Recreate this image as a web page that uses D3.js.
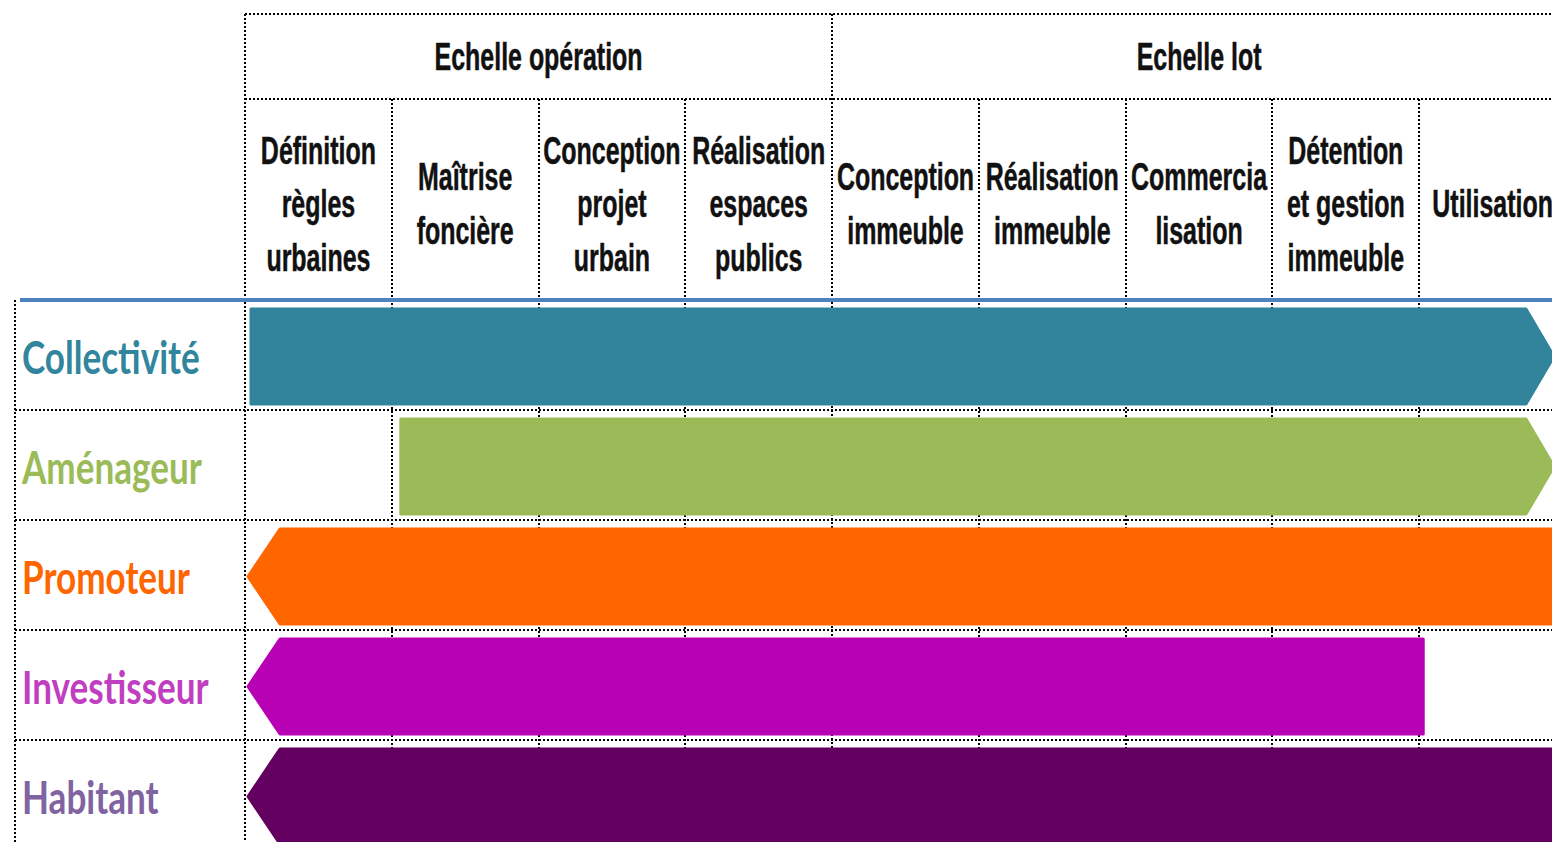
<!DOCTYPE html>
<html>
<head>
<meta charset="utf-8">
<script src="https://cdn.jsdelivr.net/npm/d3@7"></script>
<style>
  html, body { margin: 0; padding: 0; background: #fff; overflow: hidden; }
  svg { display: block; }
</style>
</head>
<body>
<svg id="chart" width="1552" height="842"></svg>
<script>
// ---------- data ----------
const groups = ["Echelle opération", "Echelle lot"];
const groupStart = [0, 4];
const groupEnd = [4, 9];
const phases = [
  ["Définition", "règles", "urbaines"],
  ["Maîtrise", "foncière"],
  ["Conception", "projet", "urbain"],
  ["Réalisation", "espaces", "publics"],
  ["Conception", "immeuble"],
  ["Réalisation", "immeuble"],
  ["Commercia", "lisation"],
  ["Détention", "et gestion", "immeuble"],
  ["Utilisation"]
];
const actors = ["Collectivité", "Aménageur", "Promoteur", "Investisseur", "Habitant"];
const startPhase = [0, 1, 0, 0, 0];
const endPhase = [9, 9, 9, 8, 9];
const startArrow = [false, false, true, true, true];
const endArrow = [true, true, false, false, false];
const barColors = ["#31849b", "#9bbb59", "#ff6600", "#b800b4", "#630060"];
const labelColors = ["#31859c", "#9bbb59", "#ff6600", "#c03fc0", "#8064a2"];

// ---------- layout ----------
const W = 1552, H = 842;
const svg = d3.select("#chart");
const x = d3.scaleLinear().domain([0, phases.length]).range([245, 1566]);
const topY = 14, groupBottom = 99, headBottom = 300;
const y = d3.scaleBand().domain(actors).range([headBottom, headBottom + 110 * actors.length]);
const dash = "2,2";
const lineStyle = sel => sel.attr("stroke", "#000").attr("stroke-width", 2)
  .attr("stroke-dasharray", dash).attr("fill", "none").attr("shape-rendering", "crispEdges");

// grid lines (drawn first, bars cover them)
const grid = svg.append("g");
d3.range(phases.length + 1).forEach(i => {
  const isGroupEdge = groupStart.includes(i);
  grid.append("line")
    .attr("x1", Math.round(x(i))).attr("x2", Math.round(x(i)))
    .attr("y1", isGroupEdge ? topY : groupBottom).attr("y2", H)
    .call(lineStyle);
});
[topY, groupBottom].forEach(yy => {
  grid.append("line").attr("x1", x(0)).attr("x2", x(phases.length)).attr("y1", yy).attr("y2", yy).call(lineStyle);
});
actors.slice(1).forEach(a => {
  grid.append("line").attr("x1", 15).attr("x2", x(phases.length)).attr("y1", y(a)).attr("y2", y(a)).call(lineStyle);
});
grid.append("line").attr("x1", 15).attr("x2", 15).attr("y1", headBottom).attr("y2", H).call(lineStyle);

// blue separator
svg.append("line").attr("x1", 20).attr("x2", x(phases.length)).attr("y1", headBottom).attr("y2", headBottom)
  .attr("stroke", "#4f81bd").attr("stroke-width", 4);

// ---------- header text ----------
const headFont = "'Liberation Sans', Arial, sans-serif";
const sx = 0.64;
groups.forEach((g, i) => {
  const cx = (x(groupStart[i]) + x(groupEnd[i])) / 2;
  svg.append("text")
    .attr("transform", `translate(${cx},70) scale(${sx},1)`)
    .attr("text-anchor", "middle")
    .attr("font-family", headFont).attr("font-weight", "bold").attr("font-size", 39)
    .attr("fill", "#111").attr("stroke", "#111").attr("stroke-width", 0.5).text(g);
});
const lineGap = 53.5, midBase = 217;
phases.forEach((lines, i) => {
  const cx = (x(i) + x(i + 1)) / 2;
  lines.forEach((t, j) => {
    const by = midBase + (j - (lines.length - 1) / 2) * lineGap;
    svg.append("text")
      .attr("transform", `translate(${cx},${by}) scale(${sx},1)`)
      .attr("text-anchor", "middle")
      .attr("font-family", headFont).attr("font-weight", "bold").attr("font-size", 39)
      .attr("fill", "#111").attr("stroke", "#111").attr("stroke-width", 0.5).text(t);
  });
});

// ---------- bars ----------
const padTop = 9, padBot = 6, arrowDepth = 32, rightArrowDepth = 28;
actors.forEach((a, i) => {
  const y0 = y(a) + padTop, y1 = y(a) + y.bandwidth() - padBot, ym = (y0 + y1) / 2;
  const p = d3.path();
  let left, right;
  if (startArrow[i]) {
    left = x(startPhase[i]) + 3;
    p.moveTo(left, ym);
    p.lineTo(left + arrowDepth, y0);
  } else {
    left = x(startPhase[i]) + (startPhase[i] === 0 ? 6 : 9);
    p.moveTo(left, y0);
  }
  if (endArrow[i]) {
    right = x(endPhase[i]) - 12;
    p.lineTo(right - rightArrowDepth, y0);
    p.lineTo(right, ym);
    p.lineTo(right - rightArrowDepth, y1);
  } else {
    right = endPhase[i] === phases.length ? x(endPhase[i]) + 10 : x(endPhase[i]) + 4;
    p.lineTo(right, y0);
    p.lineTo(right, y1);
  }
  if (startArrow[i]) {
    p.lineTo(left + arrowDepth, y1);
  } else {
    p.lineTo(left, y1);
  }
  p.closePath();
  svg.append("path").attr("d", p.toString())
    .attr("fill", barColors[i]).attr("stroke", barColors[i])
    .attr("stroke-width", 3).attr("stroke-linejoin", "round");
});

// ---------- row labels ----------
actors.forEach((a, i) => {
  svg.append("text")
    .attr("transform", `translate(22,${y(a) + y.bandwidth() / 2 + 19}) scale(0.78,1)`)
    .attr("font-family", "Lato, 'Open Sans', sans-serif").attr("font-weight", "bold").attr("font-size", 45)
    .attr("fill", labelColors[i]).text(a);
});
</script>
</body>
</html>
